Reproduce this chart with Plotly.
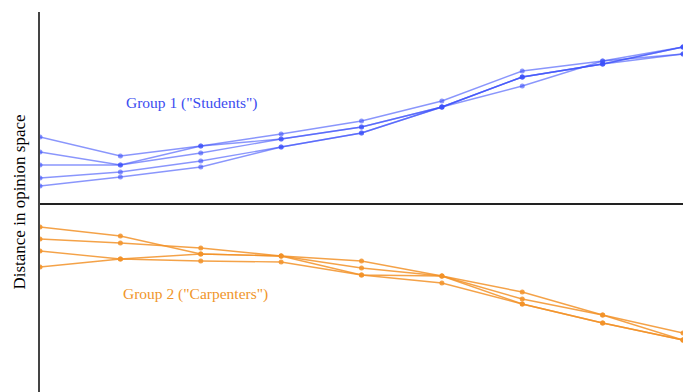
import plotly.graph_objects as go

steps = list(range(9))

# Group 1 ("Students") trajectories: distance in opinion space
students = [
    [67, 48, 58, 70, 83, 103, 133, 143, 157],
    [52, 39, 58, 65, 77, 97, 127, 140, 157],
    [39, 39, 51, 65, 77, 97, 127, 140, 150],
    [26, 32, 43, 57, 71, 97, 127, 140, 157],
    [18, 27, 37, 57, 71, 97, 118, 143, 150],
]

# Group 2 ("Carpenters") trajectories
carpenters = [
    [-23, -32, -50, -52, -64, -72, -95, -111, -136],
    [-35, -39, -44, -52, -57, -72, -88, -111, -129],
    [-47, -55, -50, -52, -71, -72, -100, -119, -136],
    [-63, -55, -57, -58, -71, -79, -100, -119, -136],
]

blue = "rgba(60,80,250,0.6)"
orange = "rgba(242,146,40,0.85)"

fig = go.Figure()
for s in students:
    fig.add_trace(go.Scatter(x=steps, y=s, mode="lines+markers",
                             line=dict(color=blue, width=1.4),
                             marker=dict(color=blue, size=5),
                             showlegend=False, hoverinfo="skip"))
for s in carpenters:
    fig.add_trace(go.Scatter(x=steps, y=s, mode="lines+markers",
                             line=dict(color=orange, width=1.4),
                             marker=dict(color=orange, size=5),
                             showlegend=False, hoverinfo="skip"))

fig.add_annotation(x=1.89, y=101, text='Group 1 ("Students")', showarrow=False,
                   font=dict(family="Liberation Serif", size=15.5, color="#3b4cf0"))
fig.add_annotation(x=1.93, y=-90, text='Group 2 ("Carpenters")', showarrow=False,
                   font=dict(family="Liberation Serif", size=15.5, color="#f0952a"))

fig.update_layout(
    width=683, height=392,
    margin=dict(l=40, r=0, t=12, b=0),
    paper_bgcolor="white", plot_bgcolor="white",
    xaxis=dict(range=[0, 8], showgrid=False, zeroline=False, showticklabels=False,
               ticks="", showline=False),
    yaxis=dict(range=[-188, 192], showgrid=False, showticklabels=False, ticks="",
               showline=True, linecolor="#444", linewidth=1.5,
               zeroline=True, zerolinecolor="#222", zerolinewidth=1.5,
               title=dict(text="Distance in opinion space", standoff=8,
                          font=dict(family="Liberation Serif", size=17, color="black"))),
)

fig.write_html("out.html", config={"displayModeBar": False},
               post_script="document.body.style.margin='0';")
